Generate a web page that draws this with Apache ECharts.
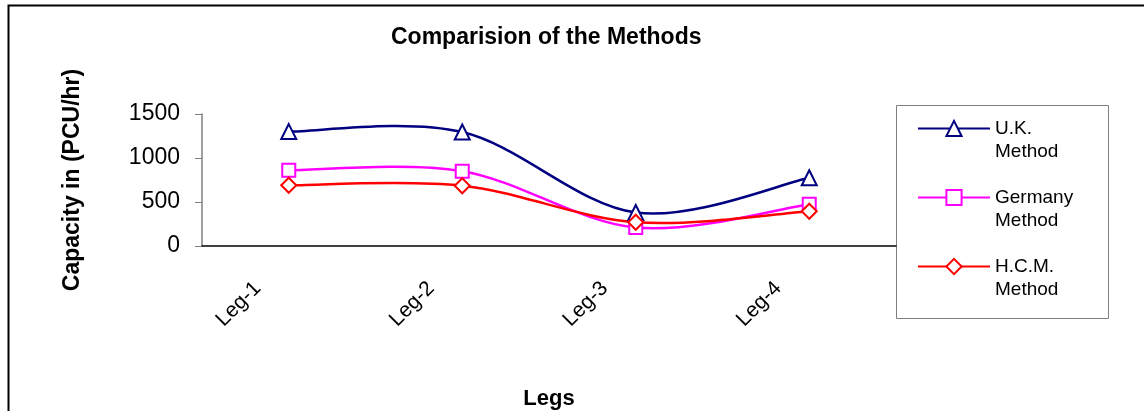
<!DOCTYPE html>
<html>
<head>
<meta charset="utf-8">
<script src="https://cdn.jsdelivr.net/npm/echarts@6/dist/echarts.min.js"></script>
<style>
  html, body { margin: 0; padding: 0; background: #fff; }
  #chart { width: 1144px; height: 411px; }
</style>
</head>
<body>
<div id="chart"></div>
<script>
  // data
  const legs = ['Leg-1', 'Leg-2', 'Leg-3', 'Leg-4']
  const ukMethod = [1300, 1295, 380, 775]
  const germanyMethod = [860, 850, 210, 475]
  const hcmMethod = [690, 685, 270, 395]
  const yTicks = [0, 500, 1000, 1500]

  const font = '"Liberation Sans", Arial, sans-serif'
  const chart = echarts.init(document.getElementById('chart'))

  // excel style smoothed line, drawn through the axes (catmull-rom like)
  function curveSeries(name, data, color) {
    return {
      name: name + ' curve',
      type: 'custom',
      silent: true,
      data: data.map((v, i) => [i, v]),
      renderItem: function (params, api) {
        if (params.dataIndex !== 0) return null
        const pts = data.map((v, i) => api.coord([i, v]))
        const children = []
        for (let i = 0; i < pts.length - 1; i++) {
          const p0 = pts[Math.max(i - 1, 0)]
          const p1 = pts[i]
          const p2 = pts[i + 1]
          const p3 = pts[Math.min(i + 2, pts.length - 1)]
          children.push({
            type: 'bezierCurve',
            shape: {
              x1: p1[0], y1: p1[1], x2: p2[0], y2: p2[1],
              cpx1: p1[0] + (p2[0] - p0[0]) / 6, cpy1: p1[1] + (p2[1] - p0[1]) / 6,
              cpx2: p2[0] - (p3[0] - p1[0]) / 6, cpy2: p2[1] - (p3[1] - p1[1]) / 6
            },
            style: { stroke: color, lineWidth: 2.5, fill: null }
          })
        }
        return { type: 'group', children: children }
      }
    }
  }

  function markerSeries(name, data, color, symbol, size) {
    return {
      name: name,
      type: 'line',
      data: data,
      symbol: symbol,
      symbolSize: size,
      lineStyle: { color: color, width: 2.5, opacity: 0 },
      itemStyle: { color: '#fff', borderColor: color, borderWidth: 2 },
      z: 3
    }
  }

  chart.setOption({
    animation: false,
    backgroundColor: '#fff',
    title: {
      text: 'Comparision of the Methods',
      left: 386,
      top: 21,
      textStyle: { fontFamily: font, fontSize: 23, fontWeight: 'bold', color: '#000' }
    },
    graphic: [
      { type: 'rect', shape: { x: 8.5, y: 5.5, width: 1200, height: 500 }, style: { fill: 'none', stroke: '#000', lineWidth: 2 } },
      { type: 'rect', shape: { x: 896.5, y: 105.5, width: 212, height: 213 }, style: { fill: 'none', stroke: '#808080', lineWidth: 1 } }
    ],
    legend: {
      data: ['U.K. Method', 'Germany Method', 'H.C.M. Method'],
      orient: 'vertical',
      left: 917,
      top: 94,
      padding: 0,
      itemWidth: 72,
      itemHeight: 19,
      itemGap: 0,
      lineStyle: { opacity: 1 },
      formatter: (name) => '\n' + name.replace(' Method', '\nMethod'),
      textStyle: { fontFamily: font, fontSize: 19, lineHeight: 23, color: '#000' }
    },
    grid: { left: 202, right: 248, top: 114, bottom: 163 },
    xAxis: {
      type: 'category',
      data: legs,
      name: 'Legs',
      nameLocation: 'middle',
      nameGap: 142,
      nameTextStyle: { fontFamily: font, fontSize: 22, fontWeight: 'bold', color: '#000' },
      axisLine: { lineStyle: { color: '#000', width: 1.5 } },
      axisTick: { length: 8, lineStyle: { color: '#808080' } },
      axisLabel: {
        rotate: 45,
        margin: 8,
        padding: [0, 44, 0, 0],
        fontFamily: font,
        fontSize: 21,
        color: '#000'
      }
    },
    yAxis: {
      type: 'value',
      min: yTicks[0],
      max: yTicks[yTicks.length - 1],
      interval: 500,
      name: 'Capacity in (PCU/hr)',
      nameLocation: 'middle',
      nameGap: 118,
      nameTextStyle: { fontFamily: font, fontSize: 23, fontWeight: 'bold', color: '#000' },
      splitLine: { show: false },
      axisLine: { show: true, lineStyle: { color: '#808080', width: 1.5 } },
      axisTick: { show: true, length: 7, lineStyle: { color: '#808080' } },
      axisLabel: { margin: 22, fontFamily: font, fontSize: 23, color: '#000', formatter: (v) => String(v) }
    },
    series: [
      curveSeries('U.K. Method', ukMethod, '#000080'),
      curveSeries('Germany Method', germanyMethod, '#ff00ff'),
      curveSeries('H.C.M. Method', hcmMethod, '#ff0000'),
      markerSeries('U.K. Method', ukMethod, '#000080', 'triangle', 15),
      markerSeries('Germany Method', germanyMethod, '#ff00ff', 'rect', 13),
      markerSeries('H.C.M. Method', hcmMethod, '#ff0000', 'diamond', 15)
    ]
  })
</script>
</body>
</html>
